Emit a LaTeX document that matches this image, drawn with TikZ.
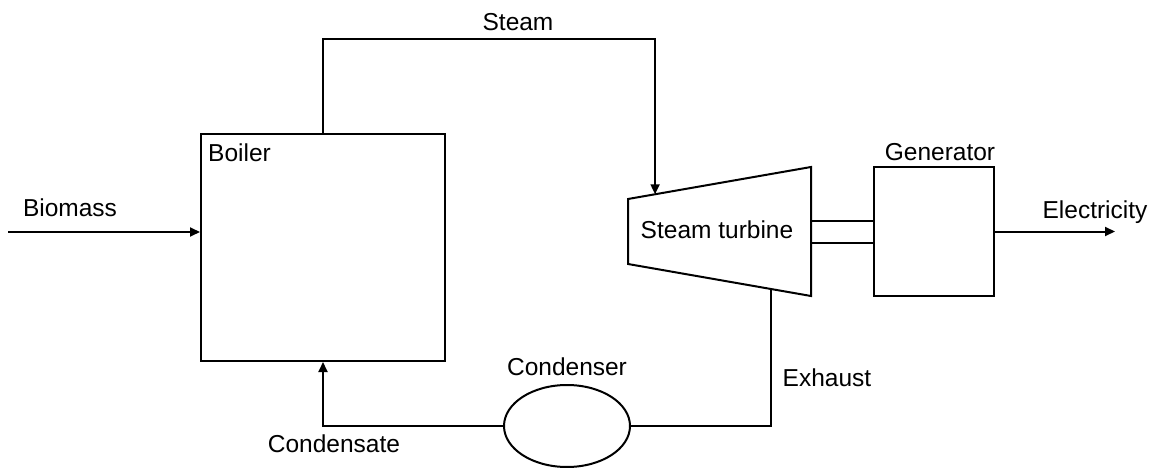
\documentclass[tikz,border=0pt]{standalone}
\usepackage{fontspec}
\setmainfont{Liberation Sans}
\usetikzlibrary{shapes.geometric, arrows.meta, positioning, calc}
\tikzset{
    unit/.style={draw, line width=2pt, inner sep=0pt},
    flow/.style={line width=2pt},
    flowarrow/.style={flow, -{Triangle[length=10pt, width=9pt]}},
    tag/.style={inner sep=0pt}
}

\begin{document}
\begin{tikzpicture}[x=1pt, y=-1pt, font=\fontsize{24.5}{29}\selectfont]
    \useasboundingbox (0,0) rectangle (1154,468);

    \node[unit, minimum width=244pt, minimum height=227pt] (boiler) at (323,247.5) {};
    \node[tag, anchor=west] (boilertag) at (208,153) {Boiler};

    \coordinate (t1) at (628,199);
    \coordinate (t2) at (811,167);
    \coordinate (t3) at (811,296);
    \coordinate (t4) at (628,264);
    \draw[flow, line join=miter] (t1) -- (t2) -- (t3) -- (t4) -- cycle;
    \node[tag] (turbine) at (717,230) {Steam turbine};
    \coordinate (steamin) at ($(t1)!0.148!(t2)$);
    \coordinate (exhout) at ($(t4)!0.781!(t3)$);

    \node[unit, minimum width=120pt, minimum height=129pt] (gen) at (934,231.5) {};
    \node[tag] (gentag) at (940,152) {Generator};

    \node[unit, ellipse, minimum width=126pt, minimum height=82pt] (cond) at (567,426) {};
    \node[tag] (condtag) at (567,367) {Condenser};

    \coordinate (bio) at (8,232);
    \coordinate (elec) at (1115,231.5);

    \draw[flowarrow] (bio) -- (bio -| boiler.west);
    \node[tag] (biotag) at (70,208) {Biomass};

    \draw[flowarrow] (boiler.north) -- ++(0,-94) -| (steamin);
    \node[tag] (steamtag) at (518,22) {Steam};

    \draw[flow] ([yshift=11pt]gen.west) -- ([yshift=11pt]gen.west -| t2);
    \draw[flow] ([yshift=-11pt]gen.west) -- ([yshift=-11pt]gen.west -| t2);

    \draw[flowarrow] (gen.east) -- (elec);
    \node[tag] (electag) at (1095,212) {Electricity};

    \draw[flow] (exhout) |- (cond.east);
    \node[tag] (exhtag) at (827,378) {Exhaust};

    \draw[flowarrow] (cond.west) -| (boiler.south);
    \node[tag] (condensatetag) at (334,444) {Condensate};
\end{tikzpicture}
\end{document}
